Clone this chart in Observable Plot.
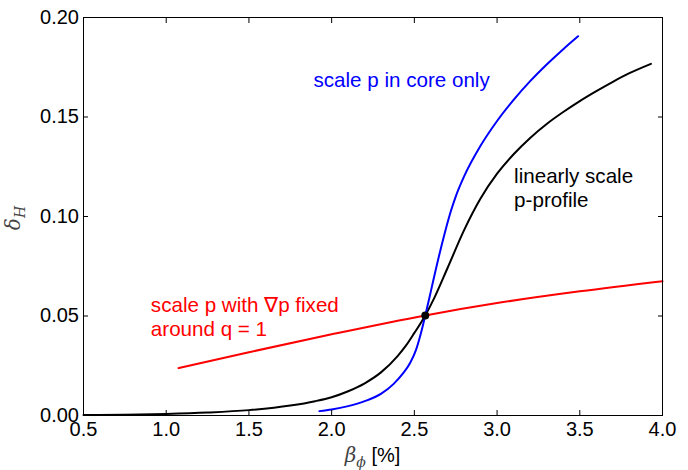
<!DOCTYPE html>
<html><head><meta charset="utf-8">
<script src="https://cdn.jsdelivr.net/npm/d3@7"></script>
<script src="https://cdn.jsdelivr.net/npm/@observablehq/plot@0.6"></script>
<style>
body{margin:0;background:#fff}
#chart svg{display:block}
</style>
</head><body><div id="chart"></div>
<script>
// Tick values
const xTicks = [0.5, 1.0, 1.5, 2.0, 2.5, 3.0, 3.5, 4.0];
const yTicks = [0.00, 0.05, 0.10, 0.15, 0.20];

// "linearly scale p-profile" (black)
const linX = [0.5, 0.75, 1.0, 1.25, 1.5, 1.75, 1.9, 2.0, 2.1, 2.2, 2.3, 2.4, 2.45, 2.5, 2.566, 2.62, 2.7, 2.8, 2.9, 3.0, 3.1, 3.2, 3.3, 3.4, 3.5, 3.6, 3.7, 3.8, 3.93];
const linY = [0.0002, 0.0004, 0.0008, 0.0015, 0.0027, 0.0050, 0.0072, 0.0092, 0.0122, 0.0162, 0.0218, 0.0300, 0.0352, 0.0415, 0.0503, 0.0590, 0.0740, 0.0930, 0.1090, 0.1215, 0.1313, 0.1395, 0.1465, 0.1525, 0.1580, 0.1630, 0.1677, 0.1720, 0.1767];

// "scale p in core only" (blue)
const coreX = [1.926, 2.0, 2.1, 2.2, 2.3, 2.375, 2.43, 2.475, 2.51, 2.54, 2.566, 2.6, 2.63, 2.68, 2.72, 2.75, 2.8, 2.9, 3.0, 3.1, 3.2, 3.3, 3.4, 3.49];
const coreY = [0.0022, 0.0030, 0.0047, 0.0072, 0.0110, 0.0159, 0.0210, 0.0265, 0.0330, 0.0415, 0.0503, 0.0625, 0.0735, 0.0905, 0.1025, 0.1100, 0.1200, 0.1355, 0.1480, 0.1586, 0.1680, 0.1764, 0.1841, 0.1906];

// "scale p with grad p fixed around q = 1" (red)
const gradX = [1.074, 1.5, 2.0, 2.566, 3.0, 3.5, 4.0];
const gradY = [0.0238, 0.0318, 0.0408, 0.0503, 0.0565, 0.0624, 0.0675];

// Reference point
const refX = [2.566];
const refY = [0.0503];

// Annotation texts
const labelCore = "scale p in core only";
const labelLin = "linearly scale\np-profile";
const labelGrad = "scale p with \u2207p fixed\naround q = 1";

const zip = (xs, ys) => xs.map((x, i) => ({x, y: ys[i]}));
const FONT = "'Liberation Sans', Arial, Helvetica, sans-serif";

const chart = Plot.plot({
  width: 688,
  height: 470,
  marginLeft: 83,
  marginRight: 26,
  marginTop: 17,
  marginBottom: 55,
  style: {fontFamily: FONT, fontSize: "20px", background: "white", color: "black"},
  x: {domain: [0.5, 4.0]},
  y: {domain: [0, 0.2]},
  marks: [
    Plot.line(zip(gradX, gradY), {x: "x", y: "y", stroke: "#ff0000", strokeWidth: 2, curve: "monotone-x"}),
    Plot.line(zip(linX, linY), {x: "x", y: "y", stroke: "black", strokeWidth: 2, curve: "monotone-x"}),
    Plot.line(zip(coreX, coreY), {x: "x", y: "y", stroke: "#0000ff", strokeWidth: 2, curve: "monotone-x"}),
    Plot.dot(zip(refX, refY), {x: "x", y: "y", r: 4, fill: "black", stroke: "none"}),
    Plot.text([labelCore], {x: 1.89, y: 0.165, text: d => d, fill: "#0000ff", textAnchor: "start", lineAnchor: "bottom", fontSize: 20.6}),
    Plot.text([labelLin], {x: 3.103, y: 0.1047, text: d => d, fill: "black", textAnchor: "start", lineAnchor: "bottom", lineHeight: 1.15, fontSize: 20.6}),
    Plot.text([labelGrad], {x: 0.907, y: 0.0397, text: d => d, fill: "#ff0000", textAnchor: "start", lineAnchor: "bottom", lineHeight: 1.18, fontSize: 20.6}),
    Plot.axisX(xTicks, {anchor: "bottom", tickSize: -5, tickPadding: 11, tickFormat: d3.format(".1f"), label: null}),
    Plot.axisX(xTicks, {anchor: "top", tickSize: -5, tickFormat: () => "", label: null}),
    Plot.axisY(yTicks, {anchor: "left", tickSize: -5, tickPadding: 9.5, tickFormat: d3.format(".2f"), label: null}),
    Plot.axisY(yTicks, {anchor: "right", tickSize: -5, tickFormat: () => "", label: null}),
    Plot.frame({stroke: "black"})
  ]
});

document.getElementById("chart").appendChild(chart);

// Axis titles with math-style subscripts
const sx = chart.scale("x"), sy = chart.scale("y");
const svg = d3.select(chart);
const cx = (sx.apply(0.5) + sx.apply(4.0)) / 2;
const xt = svg.append("text")
  .attr("x", cx).attr("y", 462)
  .attr("text-anchor", "middle")
  .attr("font-family", FONT).attr("font-size", 20).attr("fill", "black");
xt.append("tspan").attr("font-family", "'DejaVu Serif', serif").attr("font-style", "italic").attr("fill", "#444").text("\u03b2");
xt.append("tspan").attr("font-family", "'DejaVu Serif', serif").attr("font-style", "italic").attr("fill", "#444").attr("font-size", 14).attr("dy", 5).text("\u03d5");
xt.append("tspan").attr("dy", -5).text(" [%]");

const cy = (sy.apply(0) + sy.apply(0.2)) / 2;
const yt = svg.append("text")
  .attr("transform", `translate(20,${cy + 2}) rotate(-90)`)
  .attr("text-anchor", "middle")
  .attr("font-family", "'DejaVu Serif', serif").attr("font-style", "italic")
  .attr("font-size", 20).attr("fill", "#444");
yt.append("tspan").text("\u03b4");
yt.append("tspan").attr("font-size", 14).attr("dy", 5).text("H");
</script>
</body></html>
